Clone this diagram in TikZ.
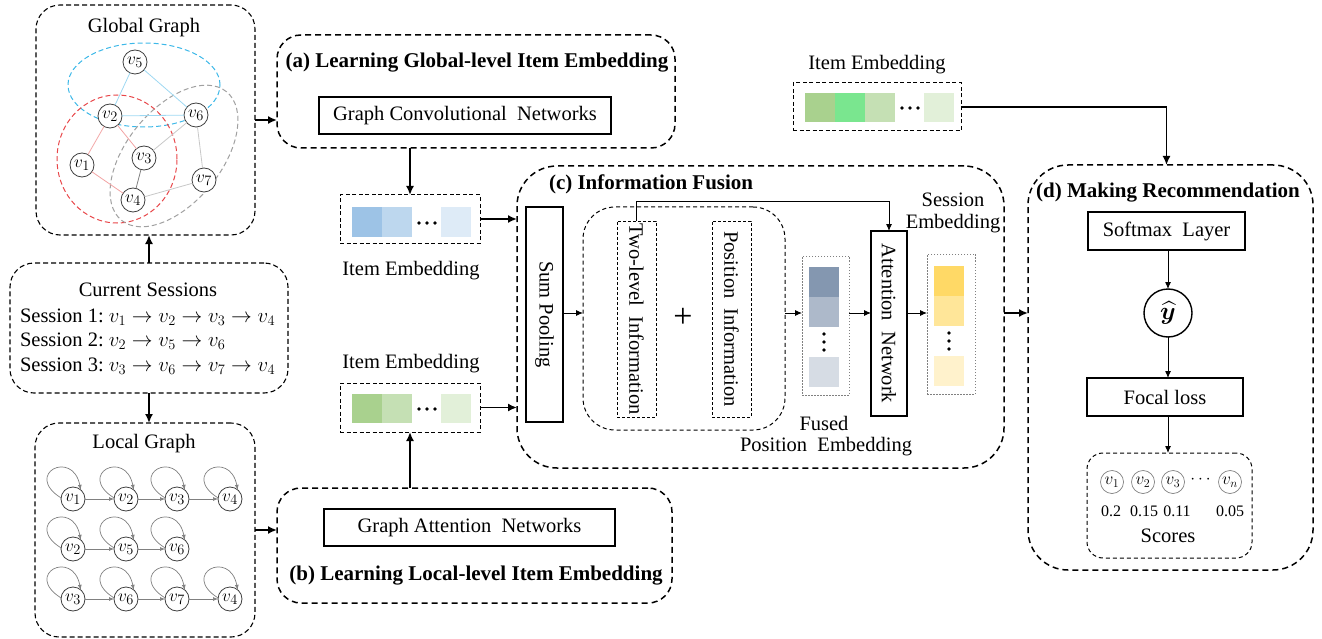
\documentclass[tikz,border=0pt]{standalone}
\usepackage{amsmath,bm}
\usepackage{fontspec}
\setmainfont{Liberation Serif}
\usetikzlibrary{arrows.meta,shapes.geometric,calc}
\definecolor{bA}{HTML}{9DC3E6}
\definecolor{bB}{HTML}{BDD7EE}
\definecolor{bC}{HTML}{DEEBF7}
\definecolor{gA}{HTML}{A9D18E}
\definecolor{gB}{HTML}{C5E0B4}
\definecolor{gC}{HTML}{E2F0D9}
\definecolor{gX}{HTML}{7AE68F}
\definecolor{sA}{HTML}{8497B0}
\definecolor{sB}{HTML}{ADB9CA}
\definecolor{sC}{HTML}{D6DCE4}
\definecolor{yA}{HTML}{FFD966}
\definecolor{yB}{HTML}{FFE699}
\definecolor{yC}{HTML}{FFF2CC}
\definecolor{eblue}{HTML}{3DB8E8}
\definecolor{ered}{HTML}{E8474A}
\definecolor{egray}{HTML}{A0A0A0}
\definecolor{lblue}{HTML}{9ED8F2}
\definecolor{lred}{HTML}{F2A3A3}
\definecolor{lgray}{HTML}{C8C8C8}
\begin{document}
\begin{tikzpicture}[x=1pt,y=-1pt,
  every node/.style={inner sep=0pt, outer sep=0pt},
  txt/.style={font=\fontsize{20.5}{24}\selectfont},
  btxt/.style={font=\fontsize{21}{25}\selectfont\bfseries},
  bigbox/.style={draw, line width=1.5pt, dash pattern=on 6pt off 4pt, rounded corners=24pt},
  graphbox/.style={draw, line width=1.1pt, dash pattern=on 5pt off 3pt, rounded corners=24pt},
  solidbox/.style={draw, line width=1.6pt, txt},
  embbox/.style={draw, line width=1pt, dash pattern=on 4pt off 2.5pt},
  dotbox/.style={draw=gray, line width=0.8pt, dash pattern=on 1.5pt off 1.5pt},
  gnode/.style={circle, draw=black!75, fill=white, line width=0.8pt, minimum size=24pt, font=\fontsize{19}{19}\selectfont},
  snode/.style={circle, draw=gray, line width=0.7pt, minimum size=23pt, font=\fontsize{17}{17}\selectfont},
  ell/.style={ellipse, line width=1pt, dash pattern=on 5pt off 3pt},
  arr/.style={line width=1.7pt, -{Latex[length=9pt,width=8pt]}},
  tarr/.style={line width=0.9pt, -{Latex[length=7pt,width=6pt]}},
  larr/.style={draw=gray, line width=0.7pt, -{Latex[length=5pt,width=4pt]}},
]
\useasboundingbox (0,0) rectangle (1322,639);

% ---------------- Global graph ----------------
\node[graphbox, minimum width=219pt, minimum height=230pt] (glob) at (145.5,120) {};
\node[txt] (globt) at (144,28) {Global Graph};
\node[ell, draw=eblue, minimum width=152pt, minimum height=84pt] (ellb) at (144,85) {};
\node[ell, draw=ered, minimum width=120pt, minimum height=128pt] (ellr) at (117,159) {};
\node[ell, draw=egray, minimum width=166pt, minimum height=94pt, rotate=50.7] (ellg) at (174,156) {};
\node[gnode] (g5) at (135,62) {$v_5$};
\node[gnode] (g2) at (110,116) {$v_2$};
\node[gnode] (g6) at (196,115) {$v_6$};
\node[gnode] (g1) at (82,165) {$v_1$};
\node[gnode] (g3) at (144,158) {$v_3$};
\node[gnode] (g4) at (133,200) {$v_4$};
\node[gnode] (g7) at (204,180) {$v_7$};
\draw[lblue, line width=0.8pt] (g5) -- (g2);
\draw[lblue, line width=0.8pt] (g5) -- (g6);
\draw[lblue, line width=0.8pt] (g2) -- (g6);
\draw[lred, line width=0.8pt] (g2) -- (g1);
\draw[lred, line width=0.8pt] (g2) -- (g3);
\draw[lred, line width=0.8pt] (g1) -- (g4);
\draw[lgray, line width=0.8pt] (g6) -- (g3);
\draw[lgray, line width=0.8pt] (g6) -- (g7);
\draw[lgray, line width=0.8pt] (g4) -- (g7);
\draw[gray, line width=0.8pt] (g3) -- (g4);

% ---------------- Current sessions ----------------
\node[graphbox, minimum width=278pt, minimum height=130pt] (sess) at (149,328) {};
\node[txt] (sesst) at (148,290) {Current Sessions};
\node[txt, anchor=west] (s1) at (20,317) {Session 1:~$v_1 \rightarrow v_2 \rightarrow v_3 \rightarrow v_4$};
\node[txt, anchor=west] (s2) at (20,341) {Session 2:~$v_2 \rightarrow v_5 \rightarrow v_6$};
\node[txt, anchor=west] (s3) at (20,366) {Session 3:~$v_3 \rightarrow v_6 \rightarrow v_7 \rightarrow v_4$};

% ---------------- Local graph ----------------
\node[graphbox, minimum width=220pt, minimum height=214pt] (loc) at (145,530) {};
\node[txt] (loct) at (144,444) {Local Graph};
\foreach \n/\lab/\x/\y in {a1/1/73/499, a2/2/126/499, a3/3/177/499, a4/4/230/499,
                          b1/2/73/549, b2/5/126/549, b3/6/177/549,
                          c1/3/73/599, c2/6/126/599, c3/7/177/599, c4/4/230/599}{
  \node[gnode] (\n) at (\x,\y) {$v_{\lab}$};
  \draw[larr] (\n.175) .. controls +(-38,-24) and +(-8,-41) .. (\n.50);
}
\draw[larr] (a1) -- (a2); \draw[larr] (a2) -- (a3); \draw[larr] (a3) -- (a4);
\draw[larr] (b1) -- (b2); \draw[larr] (b2) -- (b3);
\draw[larr] (c1) -- (c2); \draw[larr] (c2) -- (c3); \draw[larr] (c3) -- (c4);

\draw[arr] (sess.north) -- (sess.north |- glob.south);
\draw[arr] (sess.south) -- (sess.south |- loc.north);

% ---------------- (a) ----------------
\node[bigbox, minimum width=398pt, minimum height=113pt] (boxa) at (476,91.5) {};
\node[btxt] (ta) at (477,63) {(a) Learning Global-level Item Embedding};
\node[solidbox, minimum width=292pt, minimum height=37pt] (gcn) at (465,115.5) {Graph Convolutional~ Networks};
\draw[arr] (glob.east) -- (glob.east -| boxa.west);

% blue embedding
\node[embbox, minimum width=140pt, minimum height=48pt] (emb1) at (410,219) {};
\fill[bA] (352,207) rectangle (382,237);
\fill[bB] (382,207) rectangle (412,237);
\fill[bC] (441,207) rectangle (471,237);
\foreach \x in {419,427,435} \fill (\x,223) circle (1.9pt);
\node[txt] (emb1t) at (411,271) {Item Embedding};
\draw[arr] (emb1.north |- boxa.south) -- (emb1.north);

% ---------------- (b) ----------------
\node[bigbox, minimum width=395pt, minimum height=115pt] (boxb) at (474.5,545.5) {};
\node[btxt] (tb) at (476,576) {(b) Learning Local-level Item Embedding};
\node[solidbox, minimum width=291pt, minimum height=37pt] (gat) at (469.5,527.5) {Graph Attention~ Networks};
\draw[arr] (loc.east) -- (loc.east -| boxb.west);

% green embedding
\node[embbox, minimum width=140pt, minimum height=49pt] (emb2) at (410,407.5) {};
\fill[gA] (352,394) rectangle (382,423);
\fill[gB] (382,394) rectangle (412,423);
\fill[gC] (441,394) rectangle (471,423);
\foreach \x in {419,427,435} \fill (\x,409) circle (1.9pt);
\node[txt] (emb2t) at (411,364) {Item Embedding};
\draw[arr] (emb2.south |- boxb.north) -- (emb2.south);

% ---------------- (c) ----------------
\node[bigbox, minimum width=487pt, minimum height=302pt, rounded corners=40pt] (boxc) at (760.5,317) {};
\node[btxt, anchor=west] (tc) at (549,184) {(c) Information Fusion};
\coordinate (mid) at (0,313);
\draw[arr] (emb1.east) -- (emb1.east -| boxc.west);
\draw[arr] (emb2.east) -- (emb2.east -| boxc.west);

\node[solidbox, minimum width=37pt, minimum height=215pt] (sum) at (544.5,314.5) {};
\node[txt, rotate=-90] (sumt) at (544.5,314.5) {Sum Pooling};
\node[draw, line width=1pt, dash pattern=on 4pt off 3pt, rounded corners=32pt, minimum width=202pt, minimum height=223pt] (inner) at (684,318.5) {};
\node[draw, line width=1pt, dash pattern=on 3pt off 2pt, minimum width=39pt, minimum height=196pt] (two) at (636.5,319) {};
\node[txt, rotate=-90] (twot) at (636.5,319) {Two-level~ Information};
\node[draw, line width=1pt, dash pattern=on 3pt off 2pt, minimum width=39pt, minimum height=196pt] (pos) at (731.5,319) {};
\node[txt, rotate=-90] (post) at (731.5,319) {Position~ Information};
\node[font=\fontsize{34}{34}\selectfont] (plus) at (683,318) {+};

\node[dotbox, minimum width=47pt, minimum height=139pt] (fused) at (825.5,325.5) {};
\fill[sA] (809,267) rectangle (839,297);
\fill[sB] (809,297) rectangle (839,327);
\fill[sC] (809,357) rectangle (839,387);
\foreach \y in {334,342,350} \fill (824,\y) circle (1.9pt);
\node[txt] (fusedt1) at (824,423) {Fused};
\node[txt] (fusedt2) at (826,447) {Position~ Embedding};

\node[solidbox, minimum width=36pt, minimum height=185pt] (attn) at (889,323.5) {};
\node[txt, rotate=-90] (attnt) at (889,323.5) {Attention~ Network};

\node[dotbox, minimum width=48pt, minimum height=140pt] (semb) at (951,324) {};
\fill[yA] (934,266) rectangle (964,296);
\fill[yB] (934,296) rectangle (964,326);
\fill[yC] (934,356) rectangle (964,386);
\foreach \y in {333,341,349} \fill (949,\y) circle (1.9pt);
\node[txt] (sembt1) at (953,200) {Session};
\node[txt] (sembt2) at (953,224) {Embedding};

\draw[tarr] (sum.east |- mid) -- (inner.west |- mid);
\draw[tarr] (inner.east |- mid) -- (fused.west |- mid);
\draw[tarr] (fused.east |- mid) -- (attn.west |- mid);
\draw[tarr] (attn.east |- mid) -- (semb.west |- mid);
\draw[tarr] (two.north) -- ++(0,-20) -| (attn.north);

% ---------------- top item embedding ----------------
\node[embbox, minimum width=168pt, minimum height=48pt] (emb3) at (877,107) {};
\fill[gA] (805,93) rectangle (835,122);
\fill[gX] (835,93) rectangle (865,122);
\fill[gB] (865,93) rectangle (895,122);
\fill[gC] (924,93) rectangle (954,122);
\foreach \x in {902,910,918} \fill (\x,108) circle (1.9pt);
\node[txt] (emb3t) at (877,65) {Item Embedding};

% ---------------- (d) ----------------
\node[bigbox, minimum width=285pt, minimum height=405pt, rounded corners=40pt] (boxd) at (1170.5,367.5) {};
\node[btxt] (td) at (1168,193) {(d) Making Recommendation};
\node[solidbox, minimum width=157pt, minimum height=38pt] (soft) at (1166.5,231) {Softmax~ Layer};
\node[circle, draw, line width=1.4pt, minimum size=48pt, font=\fontsize{27}{27}\selectfont] (yhat) at (1168,313) {$\widehat{\bm{y}}$};
\node[solidbox, minimum width=156pt, minimum height=38pt] (focal) at (1165,397) {Focal loss};
\node[draw, line width=1pt, dash pattern=on 4pt off 3pt, rounded corners=16pt, minimum width=165pt, minimum height=105pt] (scores) at (1169.5,505.5) {};
\node[snode] (r1) at (1112,482) {$v_1$};
\node[snode] (r2) at (1143,482) {$v_2$};
\node[snode] (r3) at (1173,482) {$v_3$};
\node[font=\fontsize{16}{16}\selectfont] (rdots) at (1202,480) {$\cdots$};
\node[snode] (rn) at (1230,482) {$v_n$};
\node[font=\fontsize{16}{16}\selectfont] (p1) at (1111,511) {0.2};
\node[font=\fontsize{16}{16}\selectfont] (p2) at (1144,511) {0.15};
\node[font=\fontsize{16}{16}\selectfont] (p3) at (1177,511) {0.11};
\node[font=\fontsize{16}{16}\selectfont] (pn) at (1230,511) {0.05};
\node[txt] (scorest) at (1168,536) {Scores};

\draw[tarr] (soft.south -| yhat.north) -- (yhat.north);
\draw[tarr] (yhat.south) -- (yhat.south |- focal.north);
\draw[tarr] (yhat.south |- focal.south) -- (yhat.south |- scores.north);
\draw[arr] (boxc.east |- mid) -- (boxd.west |- mid);
\draw[arr] (emb3.east) -| (soft.north |- boxd.north);
\end{tikzpicture}
\end{document}
